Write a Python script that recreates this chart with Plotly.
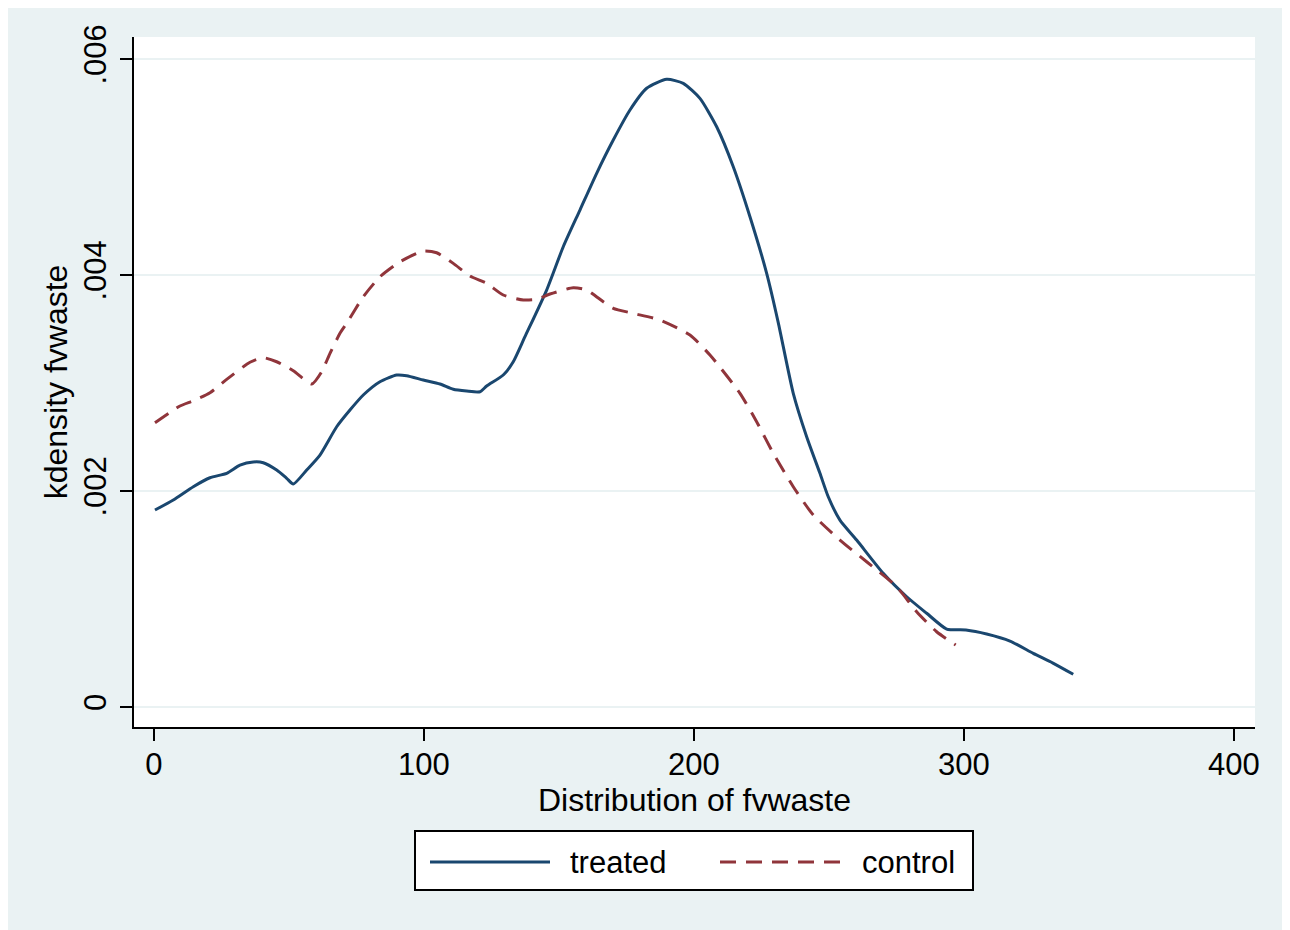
import plotly.graph_objects as go

# ---- data ----
treated_x = [0.37, 7.15, 14.56, 20.74, 26.93, 31.85, 36.78, 40.48, 45.44, 49.15, 51.59, 56.56,
             61.48, 67.67, 72.59, 77.52, 83.70, 89.89, 93.59, 99.74, 105.93, 110.85, 115.81,
             120.74, 123.22, 129.37, 133.07, 137.41, 145.44, 151.59, 157.78, 163.96,
             170.11, 176.30, 182.48, 189.89, 196.04, 202.22, 208.41, 214.56, 220.74, 226.93,
             231.22, 236.78, 241.74, 246.67, 249.74, 254.07, 260.26, 270.1, 278.8,
             286.2, 293.59, 300.74, 308.41, 317.04, 325.67, 332.96, 340.48]
treated_y = [0.001824, 0.001917, 0.002040, 0.002123, 0.002164, 0.002240, 0.002269, 0.002262,
             0.002194, 0.002118, 0.002065, 0.002194, 0.002333, 0.002595, 0.002750, 0.002889,
             0.003012, 0.003074, 0.003068, 0.003028, 0.002991, 0.002942, 0.002926, 0.002919,
             0.002972, 0.003074, 0.003197, 0.003429, 0.003861, 0.004262, 0.004602,
             0.004942, 0.005250, 0.005528, 0.005729, 0.005812, 0.005775, 0.005636, 0.005373,
             0.005003, 0.004540, 0.004016, 0.003560, 0.002905, 0.002503, 0.002164,
             0.001947, 0.001731, 0.001546, 0.001238, 0.001021, 0.000868, 0.000722,
             0.000713, 0.000676, 0.000611, 0.000497, 0.000407, 0.000303]

control_x = [0.37, 9.63, 14.56, 20.74, 26.93, 35.56, 40.48, 45.44, 51.59, 58.41, 62.11, 65.19,
             68.89, 71.37, 77.52, 83.70, 91.11, 99.74, 104.70, 110.85, 117.04, 123.22, 129.37,
             136.78, 141.74, 146.67, 155.30, 160.26, 166.41, 170.11, 177.52, 187.41, 198.52,
             205.93, 217.04, 223.22, 229.37, 236.78, 244.19, 254.07, 263.96, 275.07, 282.48,
             289.89, 296.93]
control_y = [0.002632, 0.002787, 0.002836, 0.002910, 0.003034, 0.003192, 0.003234, 0.003197,
             0.003114, 0.002991, 0.003105, 0.003275, 0.003460, 0.003553, 0.003799, 0.003984,
             0.004123, 0.004222, 0.004206, 0.004108, 0.003991, 0.003923, 0.003815, 0.003769,
             0.003775, 0.003824, 0.003882, 0.003861, 0.003753, 0.003692, 0.003645, 0.003583,
             0.003444, 0.003259, 0.002905, 0.002642, 0.002349, 0.002040, 0.001778, 0.001546,
             0.001345, 0.001114, 0.000882, 0.000697, 0.000574]

x_ticks = [0, 100, 200, 300, 400]
x_tick_labels = ["0", "100", "200", "300", "400"]
y_ticks = [0, 0.002, 0.004, 0.006]
y_tick_labels = ["0", ".002", ".004", ".006"]

series_names = ["treated", "control"]
x_title = "Distribution of fvwaste"
y_title = "kdensity fvwaste"

# ---- style ----
BG = "#EAF2F3"
NAVY = "#1A476F"
MAROON = "#90353B"
FONT = "Liberation Sans, Arial, sans-serif"
W, H = 1290, 930
M_L, M_R, M_T, M_B = 126, 43, 29, 211
# plot area as seen in the screenshot (page adds ~8px offset)
SL, SR, ST, SB = 134, 1255, 37, 727


def px_x(p):
    return (p - SL) / (SR - SL)


def px_y(p):
    return (SB - p) / (SB - ST)


fig = go.Figure()
fig.add_trace(go.Scatter(x=treated_x, y=treated_y, mode="lines", name=series_names[0],
                         line=dict(color=NAVY, width=3, shape="spline", smoothing=0.6),
                         showlegend=False))
fig.add_trace(go.Scatter(x=control_x, y=control_y, mode="lines", name=series_names[1],
                         line=dict(color=MAROON, width=3, dash="16px,10px",
                                   shape="spline", smoothing=0.6),
                         showlegend=False))

shapes = [
    dict(type="rect", xref="paper", yref="paper", x0=px_x(415), x1=px_x(973),
         y0=px_y(890), y1=px_y(831), fillcolor="white",
         line=dict(color="black", width=2)),
    dict(type="line", xref="paper", yref="paper", x0=px_x(430), x1=px_x(550),
         y0=px_y(862), y1=px_y(862), line=dict(color=NAVY, width=3)),
    dict(type="line", xref="paper", yref="paper", x0=px_x(720), x1=px_x(840),
         y0=px_y(862), y1=px_y(862), line=dict(color=MAROON, width=3, dash="16px,10px")),
]
annotations = [
    dict(xref="paper", yref="paper", x=px_x(568), y=px_y(862), text=series_names[0],
         showarrow=False, xanchor="left", yanchor="middle",
         font=dict(family=FONT, size=31, color="black")),
    dict(xref="paper", yref="paper", x=px_x(860), y=px_y(862), text=series_names[1],
         showarrow=False, xanchor="left", yanchor="middle",
         font=dict(family=FONT, size=31, color="black")),
]

fig.update_layout(
    width=W, height=H,
    margin=dict(l=M_L, r=M_R, t=M_T, b=M_B, autoexpand=False),
    paper_bgcolor=BG, plot_bgcolor="white",
    font=dict(family=FONT, size=31, color="black"),
    showlegend=False,
    shapes=shapes, annotations=annotations,
    xaxis=dict(range=[-7.4, 407.8], tickmode="array", tickvals=x_ticks,
               ticktext=x_tick_labels, showgrid=False, zeroline=False,
               showline=True, linecolor="black", linewidth=2,
               ticks="outside", ticklen=12, tickwidth=2, tickcolor="black",
               tickfont=dict(size=31), automargin=False, ticklabelstandoff=-3,
               title=dict(text=x_title, font=dict(size=32), standoff=0)),
    yaxis=dict(range=[-0.000185, 0.006204], tickmode="array", tickvals=y_ticks,
               ticktext=y_tick_labels, showgrid=True, gridcolor=BG, gridwidth=2,
               zeroline=False, showline=True, linecolor="black", linewidth=2,
               ticks="outside", ticklen=12, tickwidth=2, tickcolor="black",
               tickangle=-90, tickfont=dict(size=31), automargin=False,
               ticklabelstandoff=2,
               title=dict(text=y_title, font=dict(size=32), standoff=0)),
)

fig.write_html("out.html")
